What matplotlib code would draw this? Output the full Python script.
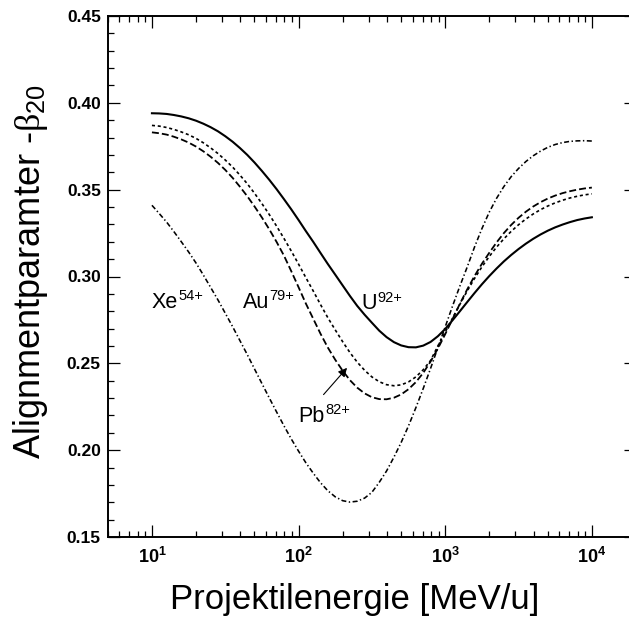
import matplotlib
matplotlib.use("Agg")
import matplotlib.pyplot as plt
from matplotlib.ticker import FixedLocator, LogLocator, MultipleLocator, NullFormatter, FixedFormatter

plt.rcParams['font.family'] = ['Liberation Sans', 'DejaVu Sans']
plt.rcParams['mathtext.fontset'] = 'custom'
plt.rcParams['mathtext.rm'] = 'Liberation Sans'
plt.rcParams['mathtext.bf'] = 'Liberation Sans:bold'
plt.rcParams['mathtext.it'] = 'Liberation Serif'
plt.rcParams['lines.scale_dashes'] = False

# ---- data ----
energy = [10, 11.2, 12.6, 14.1, 15.8, 17.8, 20, 22.4, 25.1, 28.2,
          31.6, 35.5, 39.8, 44.7, 50.1, 56.2, 63.1, 70.8, 79.4, 89.1,
          100, 112, 126, 141, 158, 178, 200, 224, 251, 282,
          316, 355, 398, 447, 501, 562, 631, 708, 794, 891,
          1000, 1122, 1259, 1413, 1585, 1778, 1995, 2239, 2512, 2818,
          3162, 3548, 3981, 4467, 5012, 5623, 6310, 7079, 7943, 8913, 10000]

beta_U = [0.3940, 0.3939, 0.3936, 0.3930, 0.3922, 0.3911, 0.3897, 0.3880, 0.3860, 0.3836,
          0.3808, 0.3776, 0.3740, 0.3700, 0.3656, 0.3608, 0.3557, 0.3503, 0.3446, 0.3387,
          0.3325, 0.3262, 0.3199, 0.3136, 0.3073, 0.3010, 0.2948, 0.2888, 0.2831, 0.2780,
          0.2734, 0.2688, 0.2651, 0.2622, 0.2603, 0.2593, 0.2592, 0.2602, 0.2623, 0.2656,
          0.2698, 0.2748, 0.2800, 0.2853, 0.2905, 0.2955, 0.3002, 0.3046, 0.3087, 0.3124,
          0.3158, 0.3189, 0.3217, 0.3242, 0.3264, 0.3283, 0.3299, 0.3313, 0.3325, 0.3334, 0.3341]

beta_Au = [0.3870, 0.3866, 0.3858, 0.3847, 0.3833, 0.3816, 0.3795, 0.3770, 0.3741, 0.3708,
           0.3671, 0.3630, 0.3584, 0.3534, 0.3479, 0.3420, 0.3357, 0.3290, 0.3220, 0.3147,
           0.3071, 0.2994, 0.2916, 0.2839, 0.2764, 0.2692, 0.2624, 0.2562, 0.2507, 0.2460,
           0.2422, 0.2394, 0.2377, 0.2371, 0.2376, 0.2393, 0.2422, 0.2463, 0.2516, 0.2600,
           0.2680, 0.2760, 0.2840, 0.2917, 0.2989, 0.3055, 0.3115, 0.3169, 0.3217, 0.3260,
           0.3298, 0.3331, 0.3360, 0.3385, 0.3406, 0.3424, 0.3439, 0.3452, 0.3462, 0.3470, 0.3476]

beta_Pb = [0.3830, 0.3825, 0.3817, 0.3805, 0.3790, 0.3771, 0.3748, 0.3721, 0.3690, 0.3654,
           0.3614, 0.3568, 0.3517, 0.3462, 0.3403, 0.3340, 0.3272, 0.3199, 0.3121, 0.3031,
           0.2938, 0.2845, 0.2756, 0.2671, 0.2592, 0.2520, 0.2457, 0.2403, 0.2360, 0.2327,
           0.2305, 0.2294, 0.2293, 0.2302, 0.2321, 0.2351, 0.2392, 0.2445, 0.2510, 0.2585,
           0.2668, 0.2755, 0.2843, 0.2926, 0.3003, 0.3073, 0.3136, 0.3196, 0.3250, 0.3297,
           0.3338, 0.3373, 0.3403, 0.3428, 0.3449, 0.3466, 0.3480, 0.3491, 0.3500, 0.3507, 0.3512]

beta_Xe = [0.3410, 0.3363, 0.3313, 0.3259, 0.3202, 0.3141, 0.3077, 0.3009, 0.2938, 0.2865,
           0.2789, 0.2711, 0.2631, 0.2550, 0.2467, 0.2384, 0.2301, 0.2220, 0.2141, 0.2065,
           0.1994, 0.1928, 0.1867, 0.1813, 0.1767, 0.1731, 0.1709, 0.1701, 0.1706, 0.1724,
           0.1757, 0.1815, 0.1880, 0.1960, 0.2045, 0.2140, 0.2245, 0.2355, 0.2470, 0.2590,
           0.2710, 0.2830, 0.2945, 0.3055, 0.3170, 0.3275, 0.3370, 0.3450, 0.3518, 0.3575,
           0.3622, 0.3662, 0.3695, 0.3722, 0.3744, 0.3760, 0.3771, 0.3778, 0.3781, 0.3782, 0.3780]

x_ticks = [10, 100, 1000, 10000]
x_ticklabels = [r'$\mathbf{10^{1}}$', r'$\mathbf{10^{2}}$', r'$\mathbf{10^{3}}$', r'$\mathbf{10^{4}}$']
y_ticks = [0.15, 0.20, 0.25, 0.30, 0.35, 0.40, 0.45]
y_ticklabels = ['0.15', '0.20', '0.25', '0.30', '0.35', '0.40', '0.45']

ion_names = ['Xe', 'Au', 'U', 'Pb']
ion_charges = ['54+', '79+', '92+', '82+']

# ---- figure ----
fig = plt.figure(figsize=(6.29, 6.25), dpi=100)
L, R, B, T = 107.8, 636.0, 537.0, 16.0
ax = fig.add_axes([L / 629, 1 - B / 625, (R - L) / 629, (B - T) / 625])

ax.plot(energy, beta_U, color='black', lw=1.5, ls='-', solid_joinstyle='round')
ax.plot(energy, beta_Au, color='black', lw=1.2, ls=(0, (2.2, 2.0)))
ax.plot(energy, beta_Pb, color='black', lw=1.3, ls=(0, (5.0, 2.2)))
ax.plot(energy, beta_Xe, color='black', lw=1.15, ls=(0, (3.6, 1.8, 1.0, 1.8)))

ax.set_xscale('log')
ax.set_xlim(5, 2e4)
ax.set_ylim(0.15, 0.45)

ax.xaxis.set_major_locator(FixedLocator(x_ticks))
ax.xaxis.set_major_formatter(FixedFormatter(x_ticklabels))
ax.xaxis.set_minor_locator(LogLocator(base=10, subs=range(2, 10), numticks=20))
ax.xaxis.set_minor_formatter(NullFormatter())
ax.yaxis.set_major_locator(FixedLocator(y_ticks))
ax.yaxis.set_major_formatter(FixedFormatter(y_ticklabels))
ax.yaxis.set_minor_locator(MultipleLocator(0.01))

ax.tick_params(which='both', direction='in', top=True, right=True, width=0.9)
ax.tick_params(which='major', length=8.5)
ax.tick_params(which='minor', length=4.5)
ax.tick_params(axis='y', which='major', pad=5, labelsize=12.5)
ax.tick_params(axis='x', which='major', pad=7, labelsize=13)
for lab in ax.get_yticklabels():
    lab.set_fontweight('bold')
for sp in ax.spines.values():
    sp.set_linewidth(1.4)

# axis titles
fig.text(355 / 629, 1 - 600 / 625, 'Projektilenergie [MeV/u]', fontsize=25,
         ha='center', va='center')
fig.text(31 / 629, 1 - 272 / 625, r'Alignmentparamter -$\beta_{20}$', fontsize=26,
         rotation=90, ha='center', va='center')

# curve labels (name + raised charge state)
label_pos = [(10, 0.282), (41.7, 0.282), (266, 0.281), (100, 0.2165)]
name_width_pt = [19.0, 19.0, 11.3, 19.0]
for name, charge, (lx, ly), w in zip(ion_names, ion_charges, label_pos, name_width_pt):
    ax.text(lx, ly, name, fontsize=15.5, ha='left', va='baseline')
    ax.annotate(charge, xy=(lx, ly), xytext=(w + 0.3, 5.5), textcoords='offset points',
                fontsize=10.5, ha='left', va='baseline')

ax.annotate('', xy=(214, 0.2474), xytext=(148, 0.232),
            arrowprops=dict(arrowstyle='-|>', color='black', lw=0.8,
                            mutation_scale=13, shrinkA=0, shrinkB=0))

fig.savefig('out.png', dpi=100)
